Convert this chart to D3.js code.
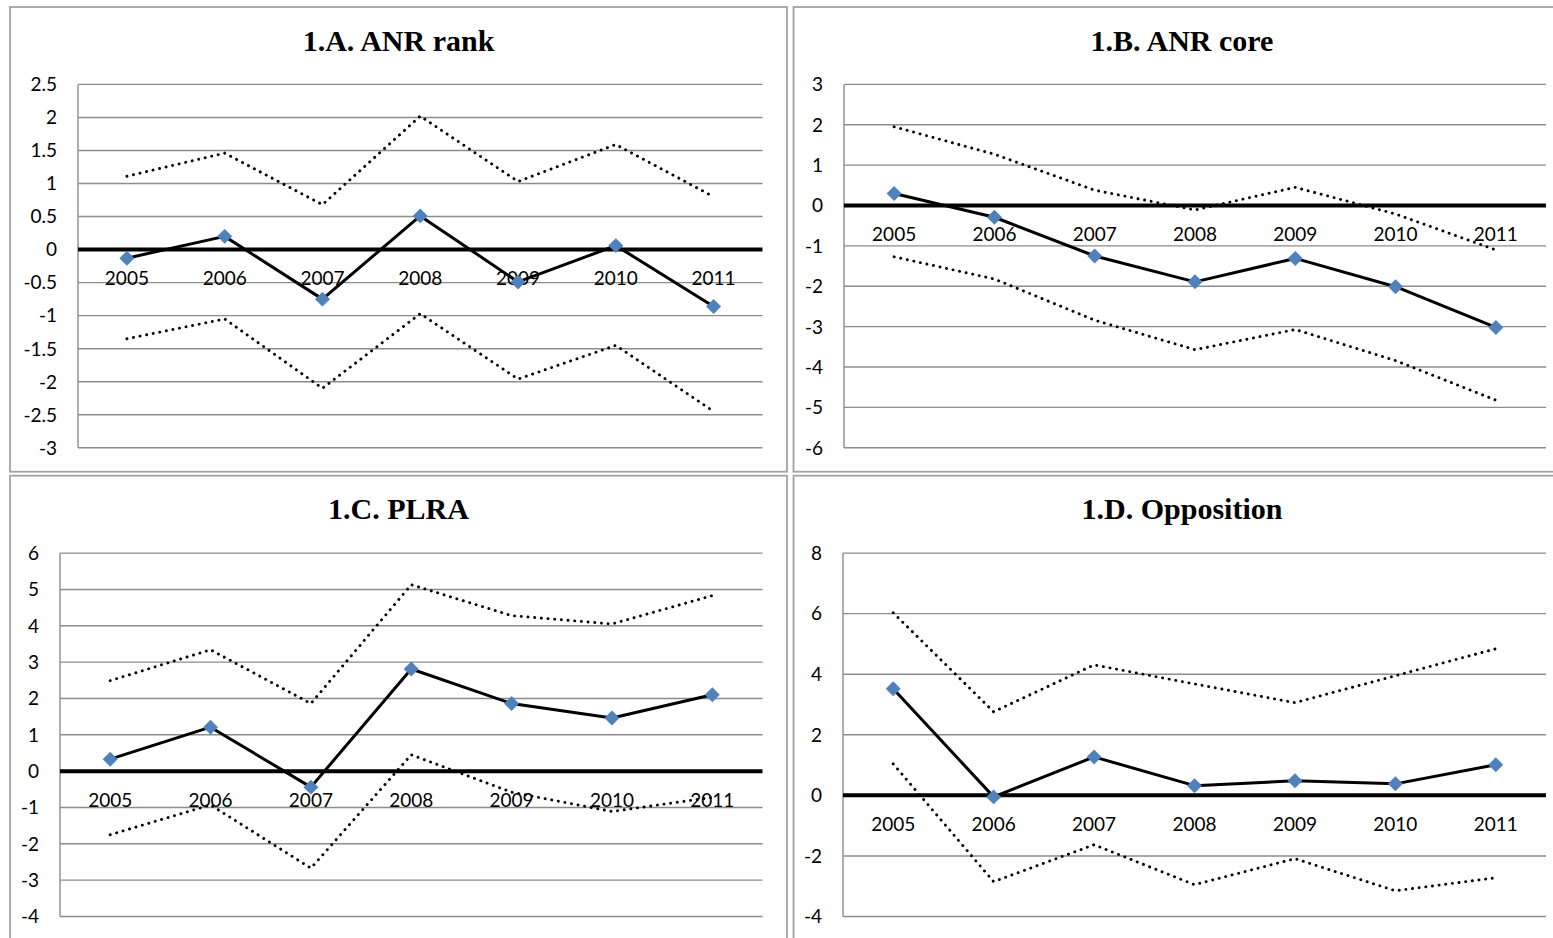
<!DOCTYPE html>
<html><head><meta charset="utf-8">
<script src="https://cdn.jsdelivr.net/npm/d3@7"></script>
<style>body{margin:0;background:#fff}svg{display:block}</style>
</head><body>
<svg id="c" width="1553" height="938"></svg>
<script>
// ---- data ----
const years = ["2005","2006","2007","2008","2009","2010","2011"];
const titles = ["1.A. ANR rank","1.B. ANR core","1.C. PLRA","1.D. Opposition"];

const aMain  = [-0.13, 0.20, -0.75, 0.51, -0.49, 0.06, -0.86];
const aUpper = [1.11, 1.46, 0.68, 2.02, 1.03, 1.59, 0.80];
const aLower = [-1.35, -1.05, -2.10, -0.97, -1.96, -1.45, -2.45];
const aTicks = [-3, -2.5, -2, -1.5, -1, -0.5, 0, 0.5, 1, 1.5, 2, 2.5];

const bMain  = [0.30, -0.29, -1.25, -1.89, -1.31, -2.01, -3.02];
const bUpper = [1.95, 1.27, 0.38, -0.11, 0.45, -0.21, -1.10];
const bLower = [-1.27, -1.82, -2.84, -3.57, -3.07, -3.84, -4.82];
const bTicks = [-6, -5, -4, -3, -2, -1, 0, 1, 2, 3];

const cMain  = [0.33, 1.21, -0.44, 2.81, 1.86, 1.46, 2.10];
const cUpper = [2.49, 3.34, 1.86, 5.13, 4.28, 4.05, 4.83];
const cLower = [-1.75, -0.93, -2.67, 0.45, -0.58, -1.11, -0.72];
const cTicks = [-4, -3, -2, -1, 0, 1, 2, 3, 4, 5, 6];

const dMain  = [3.52, -0.05, 1.27, 0.32, 0.48, 0.38, 1.01];
const dUpper = [6.03, 2.76, 4.31, 3.68, 3.06, 3.95, 4.84];
const dLower = [1.04, -2.85, -1.63, -2.95, -2.09, -3.15, -2.72];
const dTicks = [-4, -2, 0, 2, 4, 6, 8];

// ---- layout ----
const panels = [
  {title: titles[0], main: aMain, upper: aUpper, lower: aLower, ticks: aTicks, x0: 10,    y0: 7,     left: 68},
  {title: titles[1], main: bMain, upper: bUpper, lower: bLower, ticks: bTicks, x0: 793.5, y0: 7,     left: 50.5},
  {title: titles[2], main: cMain, upper: cUpper, lower: cLower, ticks: cTicks, x0: 10,    y0: 475.7, left: 50},
  {title: titles[3], main: dMain, upper: dUpper, lower: dLower, ticks: dTicks, x0: 793.5, y0: 475.7, left: 49.5}
];
const PW = 777, PH = 464.7;
const plotRight = 752.5, plotTop = 77.4, plotBottom = 440.8;

const svg = d3.select("#c");
const font = "Lato, 'Open Sans', sans-serif";

panels.forEach(p => {
  const g = svg.append("g").attr("transform", `translate(${p.x0},${p.y0})`);
  g.append("rect").attr("x", 0).attr("y", 0).attr("width", PW).attr("height", PH)
    .attr("fill", "#fff").attr("stroke", "#a3a3a3").attr("stroke-width", 1.8);

  g.append("text").attr("x", PW / 2).attr("y", 43.5).attr("text-anchor", "middle")
    .attr("font-family", "'Liberation Serif', 'Times New Roman', serif")
    .attr("font-weight", "bold").attr("font-size", 30).attr("fill", "#000")
    .text(p.title);

  const ext = d3.extent(p.ticks);
  const y = d3.scaleLinear().domain(ext).range([plotBottom, plotTop]);
  const x = d3.scalePoint().domain(years).range([p.left, plotRight]).padding(0.5);

  // gridlines
  g.selectAll("line.grid").data(p.ticks.filter(t => t !== 0)).join("line")
    .attr("x1", p.left).attr("x2", plotRight)
    .attr("y1", d => y(d)).attr("y2", d => y(d))
    .attr("stroke", "#8c8c8c").attr("stroke-width", 1.4);
  // left axis
  g.append("line").attr("x1", p.left).attr("x2", p.left)
    .attr("y1", plotTop).attr("y2", plotBottom)
    .attr("stroke", "#8c8c8c").attr("stroke-width", 1.4);

  // y tick labels
  g.selectAll("text.yt").data(p.ticks).join("text")
    .attr("x", p.left - 21).attr("y", d => y(d)).attr("dy", "0.36em")
    .attr("text-anchor", "end").attr("font-family", font).attr("font-size", 19)
    .attr("fill", "#000").text(d => String(d));

  // x labels under zero line
  g.selectAll("text.xt").data(years).join("text")
    .attr("x", d => x(d)).attr("y", y(0) + 35.5)
    .attr("text-anchor", "middle").attr("font-family", font).attr("font-size", 19)
    .attr("fill", "#000").text(d => d);

  // zero line
  g.append("line").attr("x1", p.left).attr("x2", plotRight)
    .attr("y1", y(0)).attr("y2", y(0))
    .attr("stroke", "#000").attr("stroke-width", 4);

  const line = d3.line().x((d, i) => x(years[i])).y(d => y(d));
  [p.upper, p.lower].forEach(s => {
    g.append("path").attr("d", line(s)).attr("fill", "none")
      .attr("stroke", "#000").attr("stroke-width", 2.9)
      .attr("stroke-linecap", "round").attr("stroke-dasharray", "0.1 6.6");
  });

  g.append("path").attr("d", line(p.main)).attr("fill", "none")
    .attr("stroke", "#000").attr("stroke-width", 3).attr("stroke-linejoin", "round");

  const diamond = d3.symbol().type(d3.symbolSquare).size(112);
  g.selectAll("path.mk").data(p.main).join("path")
    .attr("d", diamond)
    .attr("transform", (d, i) => `translate(${x(years[i])},${y(d)}) rotate(45)`)
    .attr("fill", "#4f81bd");
});
</script>
</body></html>
